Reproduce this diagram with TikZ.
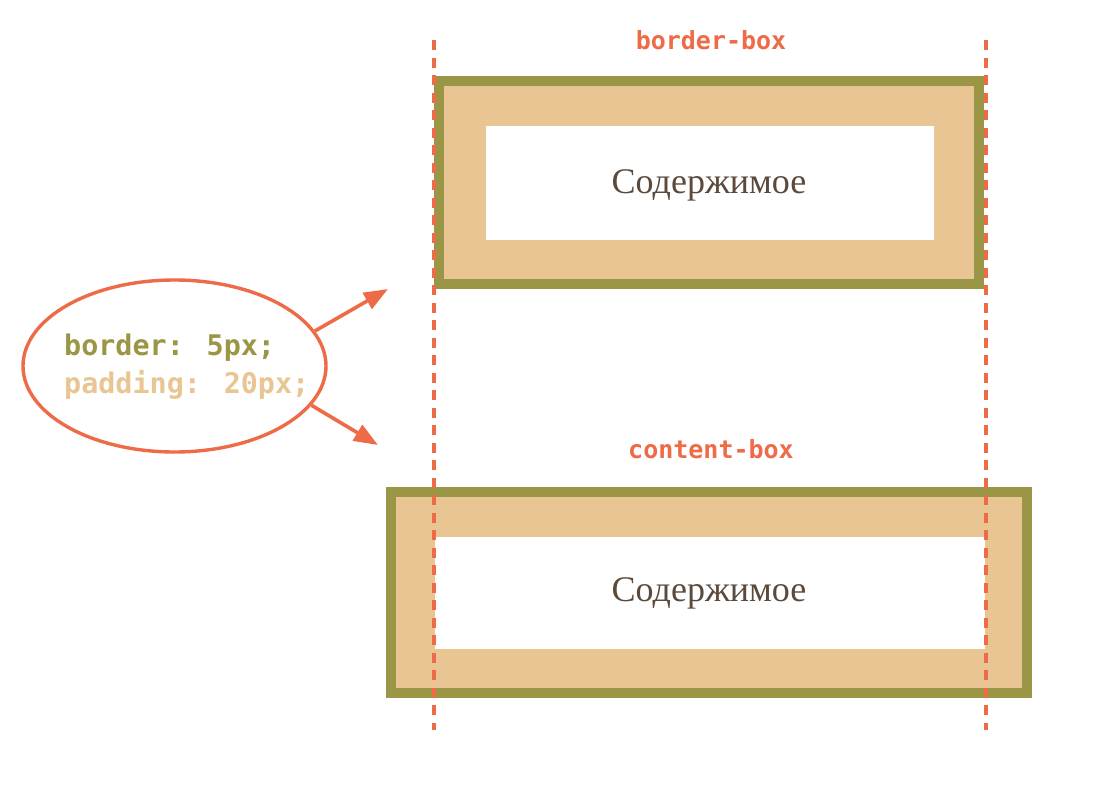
\documentclass[tikz,border=0pt]{standalone}
\usepackage{fontspec}
\setmainfont{Liberation Serif}
\newfontfamily\codefont{DejaVu Sans Mono}
\usetikzlibrary{shapes.geometric,arrows.meta}
\definecolor{olive}{HTML}{9B9646}
\definecolor{beige}{HTML}{E8C592}
\definecolor{accent}{HTML}{EE6B47}
\definecolor{txtbrown}{HTML}{5B4A3C}
\tikzset{
  outerbox/.style={draw=olive, line width=10pt, fill=beige, inner sep=0pt, outer sep=0pt, anchor=north west},
  innerbox/.style={fill=white, draw=none, inner sep=0pt, outer sep=0pt, anchor=north west},
  guide/.style={draw=accent, line width=3.4pt, dash pattern=on 10pt off 7.5pt},
  boxlabel/.style={text=accent, font=\codefont\bfseries\fontsize{25}{28}\selectfont},
  contenttext/.style={text=txtbrown, font=\fontsize{36}{42}\selectfont},
  pointer/.style={draw=accent, line width=3.6pt, -{Triangle[length=24pt, width=18pt]}},
}
\begin{document}
\begin{tikzpicture}[x=1pt,y=-1pt]
\useasboundingbox (0,0) rectangle (1100,798);
% top box (border-box)
\node[outerbox, minimum width=540pt, minimum height=203pt] (topouter) at (439,81) {};
\node[innerbox, minimum width=448pt, minimum height=114pt] (topinner) at (486,126) {};
\node[contenttext] (toptext) at (709,185) {Содержимое};
% bottom box (content-box)
\node[outerbox, minimum width=636pt, minimum height=201pt] (botouter) at (391,492) {};
\node[innerbox, minimum width=550pt, minimum height=112pt] (botinner) at (435,537) {};
\node[contenttext] (bottext) at (709,593) {Содержимое};
% labels
\node[boxlabel] (toplabel) at (711,40) {border-box};
\node[boxlabel] (botlabel) at (711,449) {content-box};
% guides
\coordinate (g1a) at (434,40);
\coordinate (g1b) at (434,730);
\coordinate (g2a) at (986,40);
\coordinate (g2b) at (986,730);
\draw[guide] (g1a) -- (g1b);
\draw[guide] (g2a) -- (g2b);
% ellipse
\node[ellipse, draw=accent, line width=3.4pt, minimum width=303pt, minimum height=172pt, inner sep=0pt] (ell) at (174.5,366) {};
\node[anchor=west, align=left, inner sep=0pt, font=\codefont\bfseries\fontsize{28.4}{38}\selectfont] (elltext) at (64,367)
  {\textcolor{olive}{border: 5px;}\\\textcolor{beige}{padding: 20px;}};
\coordinate (up) at (388,289);
\coordinate (down) at (378,445);
\draw[pointer] (ell.14) -- (up);
\draw[pointer] (ell.-16) -- (down);
\end{tikzpicture}
\end{document}
